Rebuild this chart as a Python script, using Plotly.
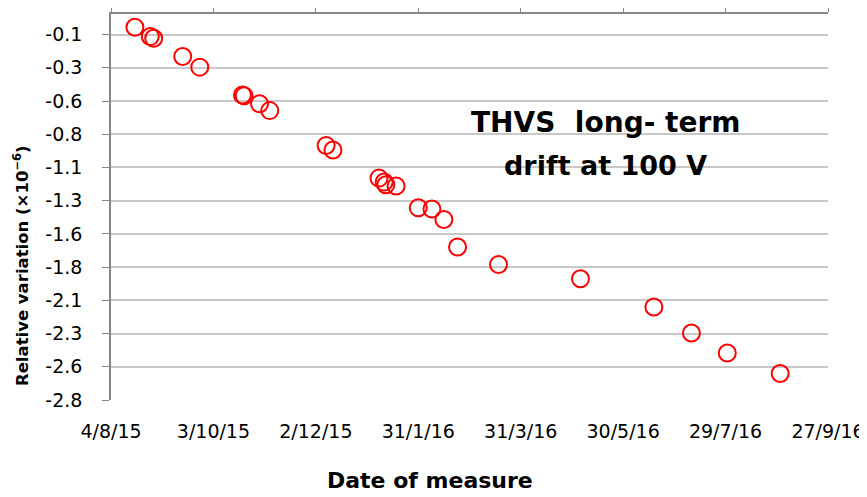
import plotly.graph_objects as go

# measurement dates and relative variation (x1e-6)
dates = ["2015-08-18", "2015-08-27", "2015-08-29", "2015-09-15", "2015-09-25",
         "2015-10-20", "2015-10-21", "2015-10-30", "2015-11-05", "2015-12-08",
         "2015-12-12", "2016-01-08", "2016-01-11", "2016-01-12", "2016-01-18",
         "2016-01-31", "2016-02-08", "2016-02-15", "2016-02-23", "2016-03-18",
         "2016-05-05", "2016-06-17", "2016-07-09", "2016-07-30", "2016-08-30"]
variation = [0.005, -0.065, -0.077, -0.215, -0.295,
             -0.504, -0.511, -0.571, -0.622, -0.885,
             -0.919, -1.13, -1.16, -1.18, -1.19,
             -1.353, -1.363, -1.441, -1.649, -1.78,
             -1.887, -2.10, -2.296, -2.446, -2.60]

x_tickvals = ["2015-08-04", "2015-10-03", "2015-12-02", "2016-01-31",
              "2016-03-31", "2016-05-30", "2016-07-29", "2016-09-27"]
x_ticktext = ["4/8/15", "3/10/15", "2/12/15", "31/1/16",
              "31/3/16", "30/5/16", "29/7/16", "27/9/16"]

y_tickvals = [-0.05, -0.3, -0.55, -0.8, -1.05, -1.3, -1.55, -1.8, -2.05, -2.3, -2.55, -2.8]
y_ticktext = ["-0.1", "-0.3", "-0.6", "-0.8", "-1.1", "-1.3", "-1.6", "-1.8", "-2.1", "-2.3", "-2.6", "-2.8"]

FONT = "DejaVu Sans"
AXIS_GREY = "#868686"
GRID_GREY = "#c8c8c8"

fig = go.Figure()
fig.add_trace(go.Scatter(
    x=dates, y=variation, mode="markers",
    marker=dict(symbol="circle-open", size=17, color="#ff0000",
                line=dict(width=2, color="#ff0000")),
    showlegend=False,
))
# invisible copy so the top (line + ticks) axis gets drawn
fig.add_trace(go.Scatter(
    x=dates, y=variation, mode="markers", xaxis="x2",
    marker=dict(opacity=0), hoverinfo="skip", showlegend=False,
))

# page body adds an 8px margin, so the figure is 8px smaller than the window
fig.update_layout(
    width=859, height=489,
    margin=dict(l=103, r=39, t=6, b=97, autoexpand=False),
    paper_bgcolor="white", plot_bgcolor="white",
    font=dict(family=FONT, color="black"),
    xaxis=dict(
        type="date", range=[x_tickvals[0], x_tickvals[-1]], automargin=False,
        tickmode="array", tickvals=x_tickvals, ticktext=x_ticktext,
        showgrid=False, zeroline=False, showline=False,
        ticks="outside", ticklen=14, tickcolor="rgba(0,0,0,0)",
        tickfont=dict(size=19, family=FONT),
    ),
    xaxis2=dict(
        type="date", overlaying="x", side="top", anchor="y", automargin=False,
        range=[x_tickvals[0], x_tickvals[-1]],
        tickmode="array", tickvals=x_tickvals, showticklabels=False,
        showgrid=False, zeroline=False, showline=True, linecolor=AXIS_GREY, linewidth=1.5,
        ticks="outside", ticklen=6, tickcolor=AXIS_GREY, tickwidth=1,
    ),
    yaxis=dict(
        range=[-2.8, 0.105], automargin=False,
        tickmode="array", tickvals=y_tickvals, ticktext=y_ticktext,
        showgrid=True, gridcolor=GRID_GREY, gridwidth=1.5, zeroline=False,
        showline=True, linecolor=AXIS_GREY, linewidth=1.5,
        ticks="outside", ticklen=7, tickcolor=AXIS_GREY,
        ticklabelstandoff=16,
        tickfont=dict(size=19, family=FONT),
    ),
)

fig.add_annotation(text="THVS  long- term", x=0.69, y=1, xref="paper", yref="paper",
                   yshift=-108, showarrow=False, xanchor="center", yanchor="middle",
                   font=dict(size=28, family=FONT, color="black", weight="bold"))
fig.add_annotation(text="drift at 100 V", x=0.69, y=1, xref="paper", yref="paper",
                   yshift=-151, showarrow=False, xanchor="center", yanchor="middle",
                   font=dict(size=27, family=FONT, color="black", weight="bold"))
fig.add_annotation(text="Date of measure", x=0.445, y=0, xref="paper", yref="paper",
                   yshift=-80, showarrow=False, xanchor="center", yanchor="middle",
                   font=dict(size=22, family=FONT, color="black", weight="bold"))
fig.add_annotation(text="Relative variation (×10<sup>−6</sup>)", x=0, y=0.347,
                   xref="paper", yref="paper", xshift=-90, textangle=-90,
                   showarrow=False, xanchor="center", yanchor="middle",
                   font=dict(size=16.5, family=FONT, color="black", weight="bold"))

fig.write_html("out.html")
